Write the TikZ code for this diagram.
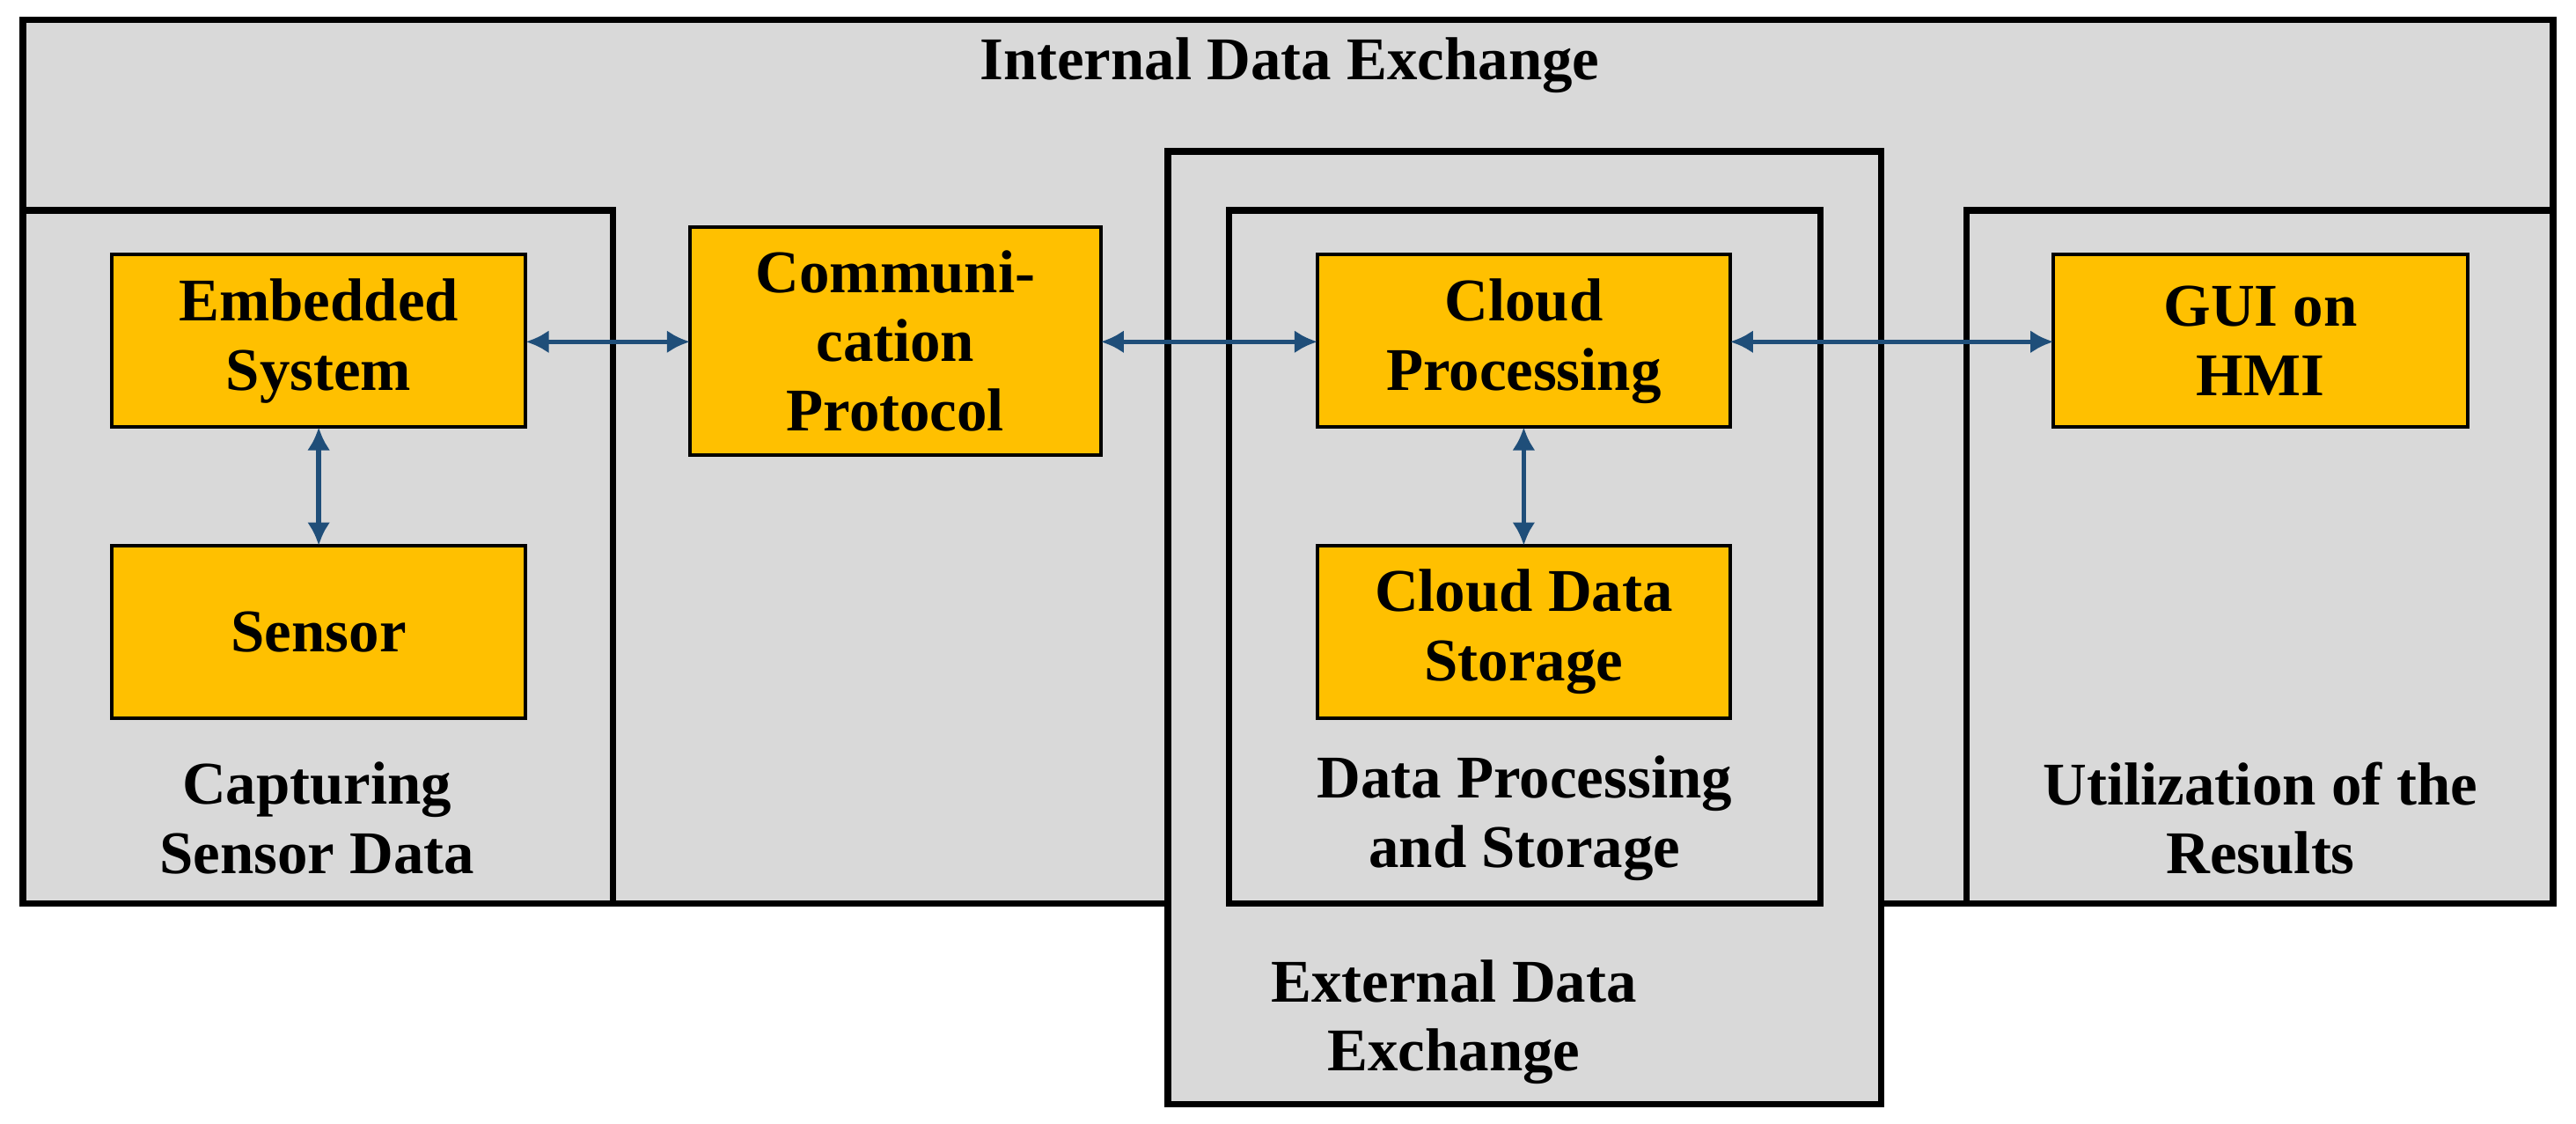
\documentclass[tikz,border=0pt]{standalone}
\usepackage{fontspec}
\setmainfont{Liberation Serif}
\usetikzlibrary{arrows.meta}
\definecolor{panelgray}{HTML}{D9D9D9}
\definecolor{boxyellow}{HTML}{FFC000}
\definecolor{linkblue}{HTML}{1F4E79}
\begin{document}
\begin{tikzpicture}[
      x=0.02cm, y=-0.02cm,
      panel/.style={draw, fill=panelgray, line width=2.3pt},
      block/.style={draw, fill=boxyellow, line width=1.2pt},
      txt/.style={align=center, font=\bfseries\fontsize{21}{24}\selectfont},
      link/.style={linkblue, line width=1.7pt, {Latex[length=8pt,width=8pt]}-{Latex[length=8pt,width=8pt]}},
    ]
      \useasboundingbox (0,0) rectangle (1568,684);
      % panels
      \draw[panel] (14,12) rectangle (1554,550);
      \draw[panel] (14,128) rectangle (373,550);
      \draw[panel] (1197,128) rectangle (1554,550);
      \draw[panel] (711,92) rectangle (1145,672);
      \draw[panel] (748,128) rectangle (1108,550);
      \node[txt] (internal) at (785,40) {Internal Data Exchange};
      \node[txt] (capturing) at (193,498) {Capturing\\Sensor Data};
      \node[txt] (dataproc) at (928,498) {Data Processing\\and Storage};
      \node[txt] (external) at (885,622) {External Data\\Exchange};
      \node[txt] (utilization) at (1376,498) {Utilization of the\\Results};
      % blocks
      \draw[block] (68,155) rectangle (320,260);
      \node[txt] (embedded) at (194,207.5) {Embedded\\System};
      \draw[block] (68,332) rectangle (320,437);
      \node[txt] (sensor) at (194,384.5) {Sensor};
      \draw[block] (420,138) rectangle (670,277);
      \node[txt] (comm) at (545,207.5) {Communi-\\cation\\Protocol};
      \draw[block] (802,155) rectangle (1053,260);
      \node[txt] (cloudproc) at (927.5,207.5) {Cloud\\Processing};
      \draw[block] (802,332) rectangle (1053,437);
      \node[txt] (storage) at (927.5,384.5) {Cloud Data\\Storage};
      \draw[block] (1250,155) rectangle (1502,260);
      \node[txt] (gui) at (1376,207.5) {GUI on\\HMI};
      % links
      \coordinate (embR) at (320,208); \coordinate (commL) at (420,208);
      \coordinate (commR) at (670,208); \coordinate (cpL) at (802,208);
      \coordinate (cpR) at (1053,208); \coordinate (guiL) at (1250,208);
      \coordinate (embB) at (194,260); \coordinate (senT) at (194,332);
      \coordinate (cpB) at (927.5,260); \coordinate (stT) at (927.5,332);
      \draw[link] (embR) -- (commL);
      \draw[link] (commR) -- (cpL);
      \draw[link] (cpR) -- (guiL);
      \draw[link] (embB) -- (senT);
      \draw[link] (cpB) -- (stT);
\end{tikzpicture}
\end{document}
